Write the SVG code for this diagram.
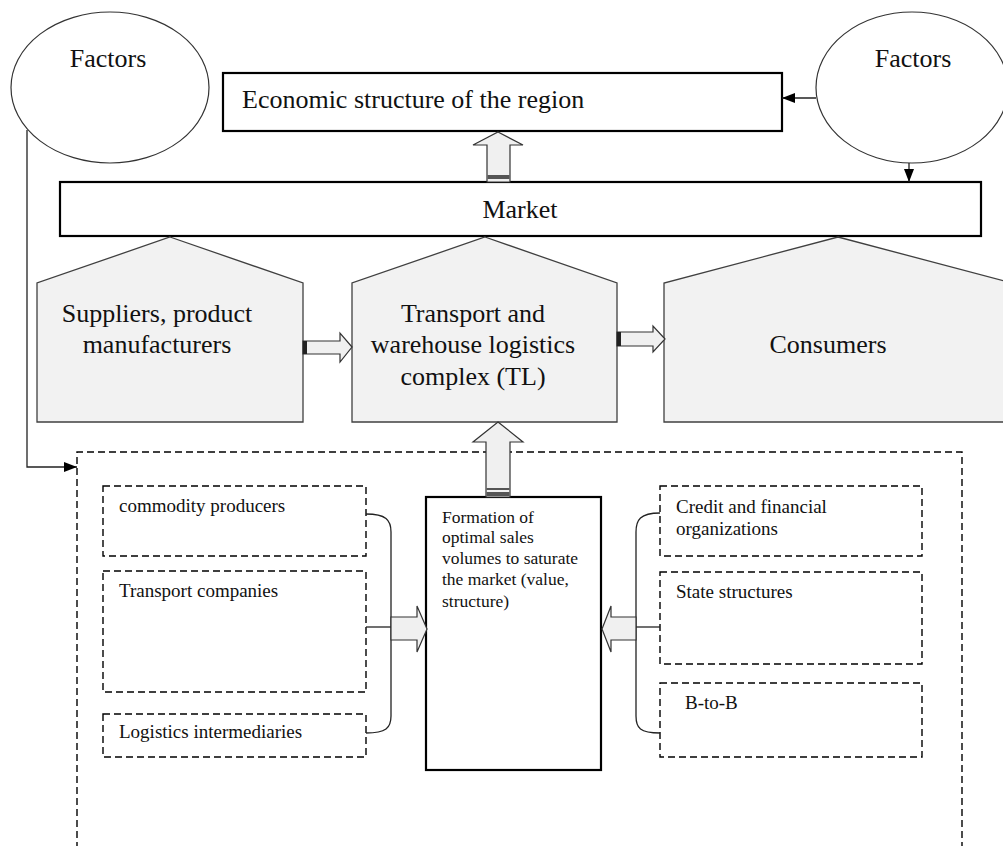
<svg xmlns="http://www.w3.org/2000/svg" width="1003" height="846" viewBox="0 0 1003 846">
<style>
  .big { font-family: "Liberation Serif", "Times New Roman", serif; font-size: 26px; fill: #111; }
  .small { font-family: "Liberation Serif", "Times New Roman", serif; font-size: 19px; fill: #111; }
  .form { font-family: "Liberation Serif", "Times New Roman", serif; font-size: 17.5px; fill: #111; }
  .ell { fill: #fff; stroke: #333; stroke-width: 1.2; }
  .solidbox { fill: #fff; stroke: #000; stroke-width: 2.2; }
  .house { fill: #f2f2f2; stroke: #404040; stroke-width: 1.3; }
  .dash { fill: none; stroke: #000; stroke-width: 1.4; stroke-dasharray: 7 4; }
  .hollow { fill: #f0f0f0; stroke: #333; stroke-width: 1.2; }
  .band { fill: #555; }
  .line { fill: none; stroke: #222; stroke-width: 1.3; }
</style>
<defs>
  <marker id="ah" markerUnits="userSpaceOnUse" markerWidth="13" markerHeight="10" refX="13" refY="5" orient="auto">
    <path d="M0,0 L13,5 L0,10 z" fill="#000"/>
  </marker>
</defs>
<rect width="1003" height="846" fill="#fff"/>

<g id="factors-left">
  <ellipse class="ell" cx="110" cy="87.5" rx="99" ry="75.5"/>
  <text class="big" x="108" y="67" text-anchor="middle">Factors</text>
</g>
<g id="factors-right">
  <ellipse class="ell" cx="912" cy="87.5" rx="96" ry="75.5"/>
  <text class="big" x="913" y="67" text-anchor="middle">Factors</text>
</g>
<g id="economic">
  <rect class="solidbox" x="223" y="73" width="559" height="58"/>
  <text class="big" x="242" y="108">Economic structure of the region</text>
</g>
<g id="market">
  <rect class="solidbox" x="60" y="182" width="921" height="54"/>
  <text class="big" x="520" y="218" text-anchor="middle">Market</text>
</g>
<g id="suppliers">
  <polygon class="house" points="170,237 303,283 303,422 37,422 37,283"/>
  <text class="big" x="157" y="322" text-anchor="middle">Suppliers, product</text>
  <text class="big" x="157" y="353" text-anchor="middle">manufacturers</text>
</g>
<g id="tl">
  <polygon class="house" points="485,237 617,283 617,422 352,422 352,283"/>
  <text class="big" x="473" y="322" text-anchor="middle">Transport and</text>
  <text class="big" x="473" y="353" text-anchor="middle">warehouse logistics</text>
  <text class="big" x="473" y="385" text-anchor="middle">complex (TL)</text>
</g>
<g id="consumers">
  <polygon class="house" points="838,237 1012,283 1012,422 664,422 664,283"/>
  <text class="big" x="828" y="353" text-anchor="middle">Consumers</text>
</g>
<g id="participants-area">
  <path class="dash" d="M77,860 L77,452 L962,452 L962,860"/>
</g>
<g id="commodity">
  <rect class="dash" x="103" y="486" width="263" height="70"/>
  <text class="small" x="119" y="512">commodity producers</text>
</g>
<g id="transport-companies">
  <rect class="dash" x="103" y="571" width="263" height="121"/>
  <text class="small" x="119" y="597">Transport companies</text>
</g>
<g id="logistics-intermediaries">
  <rect class="dash" x="103" y="714" width="263" height="43"/>
  <text class="small" x="119" y="738" font-size="16.5">Logistics intermediaries</text>
</g>
<g id="formation">
  <rect class="solidbox" x="426" y="497" width="175" height="273"/>
  <text class="form" x="442" y="523">Formation of</text>
  <text class="form" x="442" y="543">optimal sales</text>
  <text class="form" x="442" y="564">volumes to saturate</text>
  <text class="form" x="442" y="585">the market (value,</text>
  <text class="form" x="442" y="607">structure)</text>
</g>
<g id="credit">
  <rect class="dash" x="660" y="486" width="262" height="70"/>
  <text class="small" x="676" y="513">Credit and financial</text>
  <text class="small" x="676" y="535">organizations</text>
</g>
<g id="state">
  <rect class="dash" x="660" y="572" width="262" height="92"/>
  <text class="small" x="676" y="598">State structures</text>
</g>
<g id="btob">
  <rect class="dash" x="660" y="683" width="262" height="74"/>
  <text class="small" x="685" y="709">B-to-B</text>
</g>

<g id="connectors">
  <path class="line" d="M27,130 L27,467 L77,467" marker-end="url(#ah)"/>
  <path class="line" d="M816,98 L782,98" marker-end="url(#ah)"/>
  <path class="line" d="M909,163 L909,182" marker-end="url(#ah)"/>

  <polygon class="hollow" points="498,132 523,145 510,145 510,182 487,182 487,145 473,145"/>
  <rect class="band" x="487.5" y="175" width="22" height="4"/>

  <polygon class="hollow" points="498,422 523,442 510,442 510,497 486,497 486,442 473,442"/>
  <rect class="band" x="486.5" y="488" width="23" height="2"/>
  <rect class="band" x="486.5" y="492" width="23" height="4"/>

  <polygon class="hollow" points="352,347 340,333 340,341 303,341 303,354 340,354 340,362"/>
  <rect x="303" y="341" width="4" height="13" fill="#222"/>

  <polygon class="hollow" points="665,339 653,326 653,332 617,332 617,346 653,346 653,352"/>
  <rect x="617" y="332" width="4" height="14" fill="#222"/>

  <path class="line" d="M366,514 C386,514 391,520 391,532 L391,716 C391,728 386,733 366,733"/>
  <path class="line" d="M366,627 L391,627"/>
  <polygon class="hollow" points="427,629 417,652 417,640 391,640 391,617 417,617 417,606"/>

  <path class="line" d="M660,513 C640,513 636,520 636,532 L636,716 C636,728 640,733 660,733"/>
  <path class="line" d="M636,627 L660,627"/>
  <polygon class="hollow" points="602,629 611,606 611,617 636,617 636,640 611,640 611,652"/>
</g>
</svg>
